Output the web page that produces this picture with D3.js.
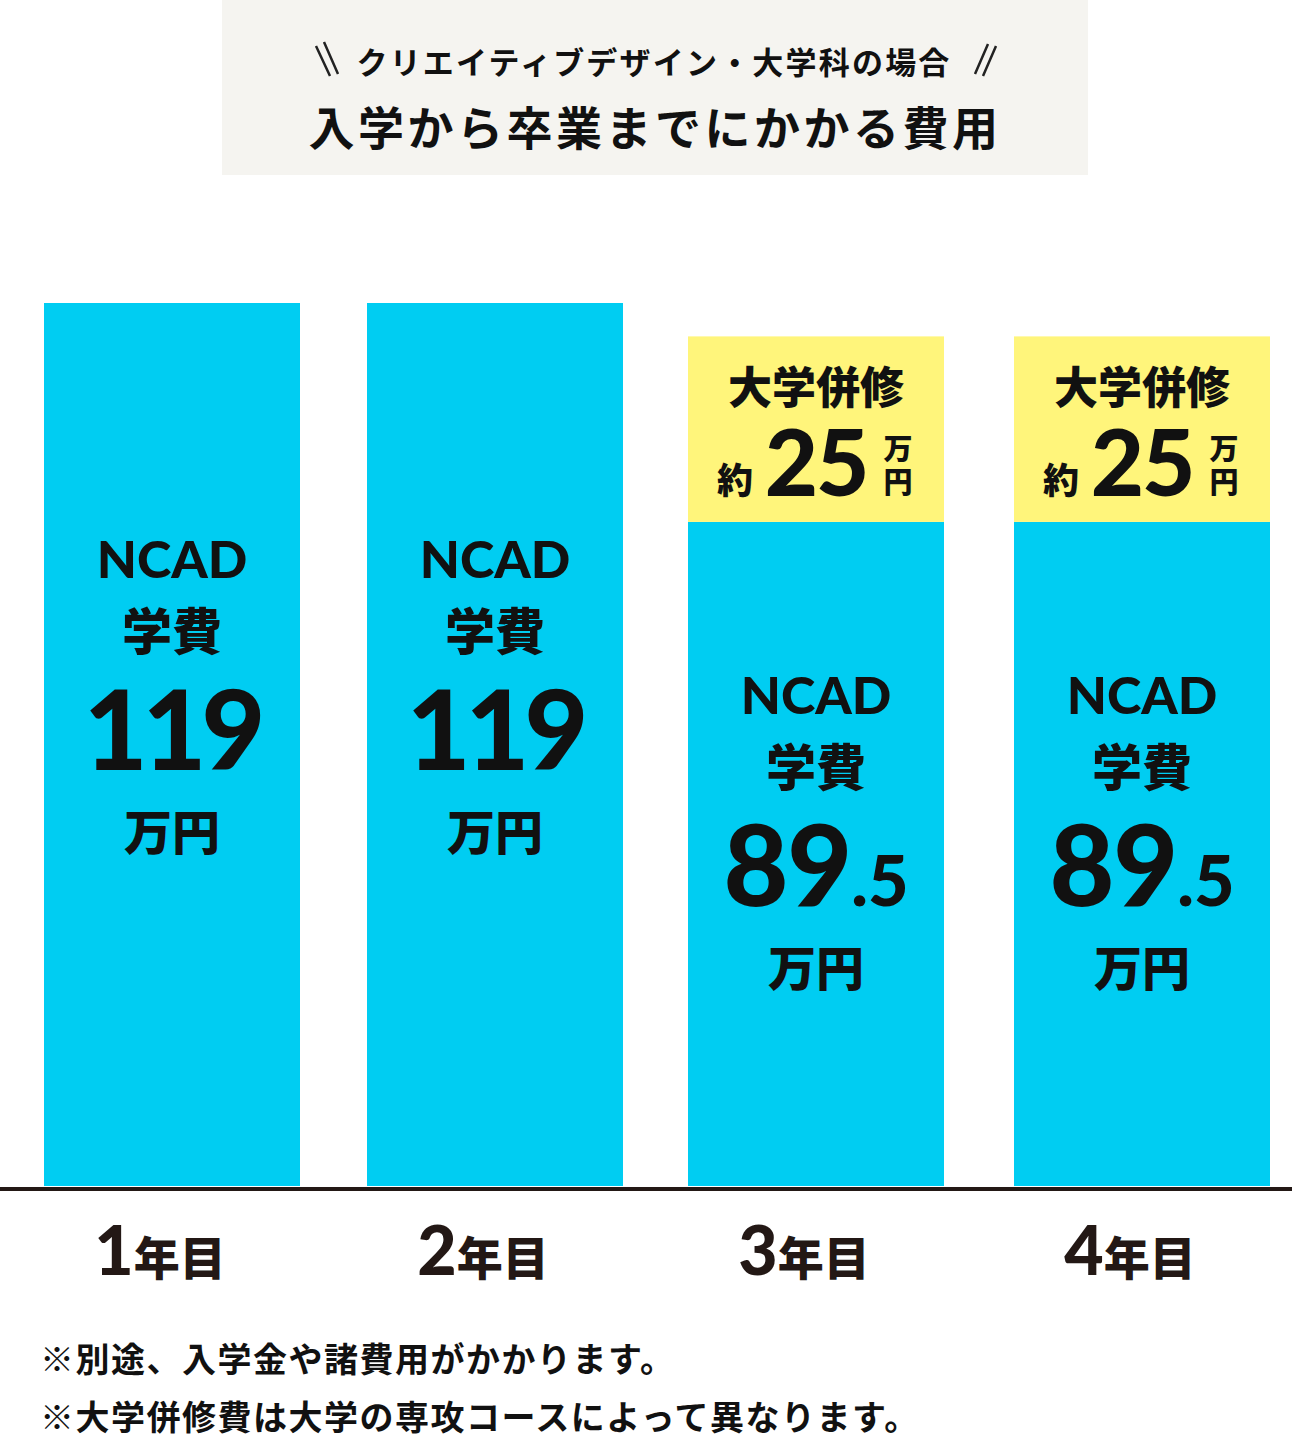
<!DOCTYPE html>
<html><head><meta charset="utf-8">
<script src="https://cdn.jsdelivr.net/npm/d3@7"></script>
<style>body{margin:0;background:#fff}svg{display:block}</style>
</head><body>
<script>
const categories = ["1年目","2年目","3年目","4年目"];
const yearNums = ["1","2","3","4"];
const ncadFee = [119,119,89.5,89.5];
const univFee = [0,0,25,25];
const noteLines = ["※別途、入学金や諸費用がかかります。","※大学併修費は大学の専攻コースによって異なります。"];
const subTitle = "クリエイティブデザイン・大学科の場合";
const mainTitle = "入学から卒業までにかかる費用";

const W=1292,H=1442;
const JP='"Noto Sans CJK JP",sans-serif', NUM='Lato,"Noto Sans CJK JP",sans-serif';
const svg=d3.select("body").append("svg").attr("width",W).attr("height",H);
const y=d3.scaleLinear().domain([0,119]).range([1186,303]);
const bx=[44,367,688,1014];
svg.append("rect").attr("x",222).attr("y",0).attr("width",866).attr("height",175).attr("fill","#f5f4f0");
svg.append("text").attr("x",654).attr("y",74).attr("text-anchor","middle").attr("font-family",JP).attr("font-weight",700).attr("font-size",31).attr("letter-spacing",2.2).attr("fill","#111").text(subTitle);
svg.append("path").attr("d","M316,46 L330,76 M324,42 L338,74 M975,74 L988,44 M983,76 L996,46").attr("stroke","#222").attr("stroke-width",2.5);
svg.append("text").attr("x",655).attr("y",145).attr("text-anchor","middle").attr("font-family",JP).attr("font-weight",700).attr("font-size",46).attr("letter-spacing",3.5).attr("fill","#111").text(mainTitle);

const bw=256;
categories.forEach((c,i)=>{
  const x0=bx[i];
  const cx=x0+bw/2;
  svg.append("rect").attr("x",x0).attr("y",y(ncadFee[i])).attr("width",bw).attr("height",y(0)-y(ncadFee[i])).attr("fill","#00cdf2");
  let top=y(ncadFee[i]);
  const off = univFee[i]>0 ? 174 : 257;
  const g=svg.append("g").attr("font-weight",900).attr("fill","#111").attr("text-anchor","middle");
  g.append("text").attr("x",cx).attr("y",top+off+18).attr("font-family",NUM).attr("font-size",52).text("NCAD");
  g.append("text").attr("x",cx).attr("y",top+off+90).attr("font-family",JP).attr("font-size",50).text("学費");
  const v=ncadFee[i];
  if(Number.isInteger(v)){
    g.append("text").attr("x",cx).attr("y",top+off+210).attr("font-family",NUM).attr("font-size",110).attr("letter-spacing",-5).text(v);
  } else {
    const s=String(v).split(".");
    const t=g.append("text").attr("x",cx).attr("y",top+off+210).attr("font-family",NUM);
    t.append("tspan").attr("font-size",112).attr("letter-spacing",-1).text(s[0]);
    t.append("tspan").attr("font-size",70).text("."+s[1]);
  }
  g.append("text").attr("x",cx).attr("y",top+off+290).attr("font-family",JP).attr("font-size",48).text("万円");
  if(univFee[i]>0){
    const yt=y(ncadFee[i]+univFee[i]);
    svg.append("rect").attr("x",x0).attr("y",yt).attr("width",bw).attr("height",top-yt).attr("fill","#fff57b");
    const h=svg.append("g").attr("fill","#111").attr("font-weight",900);
    h.append("text").attr("x",cx).attr("y",yt+68).attr("text-anchor","middle").attr("font-family",JP).attr("font-size",44).text("大学併修");
    h.append("text").attr("x",x0+47).attr("y",yt+158).attr("text-anchor","middle").attr("font-family",JP).attr("font-size",36).text("約");
    h.append("text").attr("x",x0+128).attr("y",yt+160).attr("text-anchor","middle").attr("font-family",NUM).attr("font-size",92).attr("letter-spacing",-2).text(univFee[i]);
    h.append("text").attr("x",x0+210).attr("y",yt+124).attr("text-anchor","middle").attr("font-family",JP).attr("font-size",29).text("万");
    h.append("text").attr("x",x0+210).attr("y",yt+157).attr("text-anchor","middle").attr("font-family",JP).attr("font-size",29).text("円");
  }
  const lt=svg.append("text").attr("x",cx-12).attr("y",1275).attr("text-anchor","middle").attr("fill","#231815").attr("font-weight",900);
  lt.append("tspan").attr("font-family",NUM).attr("font-size",68).text(yearNums[i]);
  lt.append("tspan").attr("font-family",JP).attr("font-size",46).text(c.slice(yearNums[i].length));
});
svg.append("line").attr("x1",0).attr("x2",W).attr("y1",y(0)+3).attr("y2",y(0)+3).attr("stroke","#231815").attr("stroke-width",4);
noteLines.forEach((t,i)=>svg.append("text").attr("x",40).attr("y",1372+i*58).attr("font-family",JP).attr("font-weight",700).attr("font-size",34).attr("letter-spacing",1.5).attr("fill","#111").text(t));
</script>
</body></html>
